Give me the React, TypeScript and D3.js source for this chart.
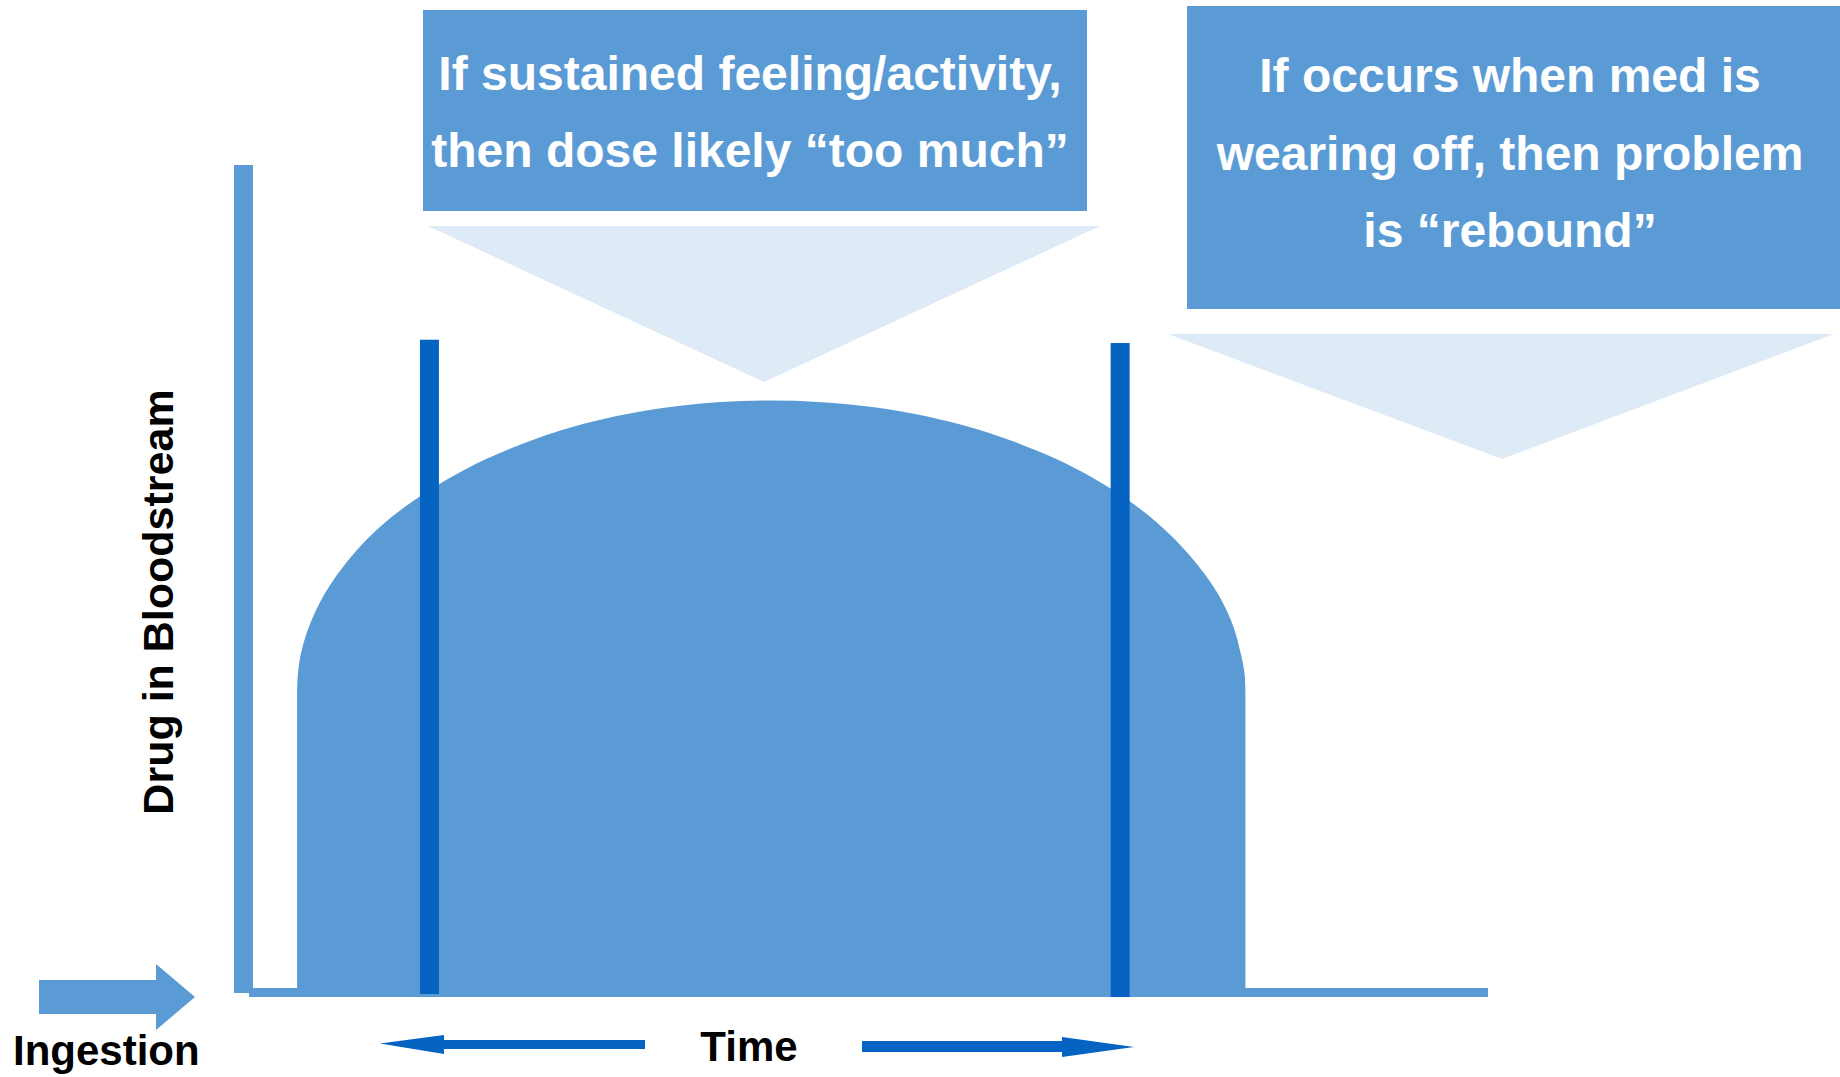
import { useEffect, useRef } from 'react';
import * as d3 from 'd3';

// time (hours) and drug level (0..1)
const curveTimes = [0.5, 0.51, 0.55, 0.66, 0.88, 1.3, 1.84, 2.65, 3.72, 4.8, 5.87, 6.95, 8.02, 9.1, 9.91, 10.44, 10.87, 11.09, 11.19, 11.24, 11.25];
const curveLevels = [0.367, 0.389, 0.416, 0.452, 0.496, 0.551, 0.598, 0.647, 0.688, 0.71, 0.717, 0.71, 0.688, 0.647, 0.598, 0.551, 0.496, 0.452, 0.416, 0.389, 0.367];

// vertical markers: onset and wearing-off
const markerTimes = [2.0, 9.83];
const markerLevels = [0.79, 0.786];

const calloutLines1 = ['If sustained feeling/activity,', 'then dose likely \u201ctoo much\u201d'];
const calloutLines2 = ['If occurs when med is', 'wearing off, then problem', 'is \u201crebound\u201d'];

const yLabel = 'Drug in Bloodstream';
const xLabel = 'Time';
const startLabel = 'Ingestion';

const W = 1840;
const H = 1077;
const FONT = '"Liberation Sans", Arial, Helvetica, sans-serif';
const MID = '#5B9BD5';
const DARK = '#0563C1';
const LIGHT = '#DEEAF6';

const App = () => {
  const svgRef = useRef(null);

  useEffect(() => {
    document.body.style.margin = '0';
    document.body.style.overflow = 'hidden';

    const svg = d3.select(svgRef.current);
    svg.selectAll('*').remove();
    svg.attr('width', W).attr('height', H);

    const x = d3.scaleLinear().domain([0, 14]).range([253, 1488]);
    const y = d3.scaleLinear().domain([0, 1]).range([997, 165]);

    // y axis bar
    svg.append('rect')
      .attr('x', x(0) - 19).attr('y', y(1))
      .attr('width', 19).attr('height', y(0) - y(1) - 4)
      .attr('fill', MID);

    // baseline
    svg.append('rect')
      .attr('x', x(0) - 4).attr('y', y(0) - 9)
      .attr('width', x(14) - x(0) + 4).attr('height', 9)
      .attr('fill', MID);

    // drug level area
    const pts = curveTimes.map((t, i) => [t, curveLevels[i]]);
    const area = d3.area()
      .x(d => x(d[0]))
      .y0(y(0))
      .y1(d => y(d[1]))
      .curve(d3.curveCatmullRom.alpha(0.5));

    svg.append('path')
      .attr('d', area(pts))
      .attr('fill', MID);

    // markers
    svg.selectAll('.marker')
      .data(markerTimes)
      .enter()
      .append('rect')
      .attr('class', 'marker')
      .attr('x', d => x(d) - 9.5)
      .attr('y', (d, i) => y(markerLevels[i]))
      .attr('width', 19)
      .attr('height', (d, i) => y(0) - 3 - y(markerLevels[i]) + i * 3)
      .attr('fill', DARK);

    // callout 1
    svg.append('rect')
      .attr('x', 423).attr('y', 10).attr('width', 664).attr('height', 201)
      .attr('fill', MID);
    svg.append('path')
      .attr('d', 'M428,226 L1100,226 L764,382 Z')
      .attr('fill', LIGHT);
    svg.selectAll('.c1')
      .data(calloutLines1)
      .enter()
      .append('text')
      .attr('class', 'c1')
      .attr('x', 750)
      .attr('y', (d, i) => 90 + i * 77)
      .attr('text-anchor', 'middle')
      .style('font-family', FONT)
      .style('font-weight', 'bold')
      .style('font-size', '48px')
      .style('fill', '#fff')
      .text(d => d);

    // callout 2
    svg.append('rect')
      .attr('x', 1187).attr('y', 6).attr('width', W - 1187).attr('height', 303)
      .attr('fill', MID);
    svg.append('path')
      .attr('d', 'M1168,334 L1834,334 L1502,459 Z')
      .attr('fill', LIGHT);
    svg.selectAll('.c2')
      .data(calloutLines2)
      .enter()
      .append('text')
      .attr('class', 'c2')
      .attr('x', 1510)
      .attr('y', (d, i) => 92 + i * 77.5)
      .attr('text-anchor', 'middle')
      .style('font-family', FONT)
      .style('font-weight', 'bold')
      .style('font-size', '48px')
      .style('fill', '#fff')
      .text(d => d);

    // y label
    svg.append('text')
      .attr('transform', 'translate(173,602) rotate(-90)')
      .attr('text-anchor', 'middle')
      .style('font-family', FONT)
      .style('font-weight', 'bold')
      .style('font-size', '43px')
      .style('fill', '#000')
      .text(yLabel);

    // ingestion arrow + label
    svg.append('path')
      .attr('d', 'M39,980 L156,980 L156,964 L195,997 L156,1030 L156,1014 L39,1014 Z')
      .attr('fill', MID);
    svg.append('text')
      .attr('x', 13).attr('y', 1065)
      .style('font-family', FONT)
      .style('font-weight', 'bold')
      .style('font-size', '42px')
      .style('fill', '#000')
      .text(startLabel);

    // time label + arrows
    svg.append('text')
      .attr('x', 749).attr('y', 1061)
      .attr('text-anchor', 'middle')
      .style('font-family', FONT)
      .style('font-weight', 'bold')
      .style('font-size', '42px')
      .style('fill', '#000')
      .text(xLabel);
    svg.append('path')
      .attr('d', 'M645,1040 L444,1040 L444,1035 L380,1043.5 L444,1054 L444,1049 L645,1049 Z')
      .attr('fill', DARK);
    svg.append('path')
      .attr('d', 'M862,1041 L1062,1041 L1062,1037 L1134,1047 L1062,1057 L1062,1052 L862,1052 Z')
      .attr('fill', DARK);
  }, []);

  return (
    <div style={{ width: W, height: H, background: '#fff' }}>
      <svg ref={svgRef} style={{ display: 'block' }}></svg>
    </div>
  );
};

export default App;
